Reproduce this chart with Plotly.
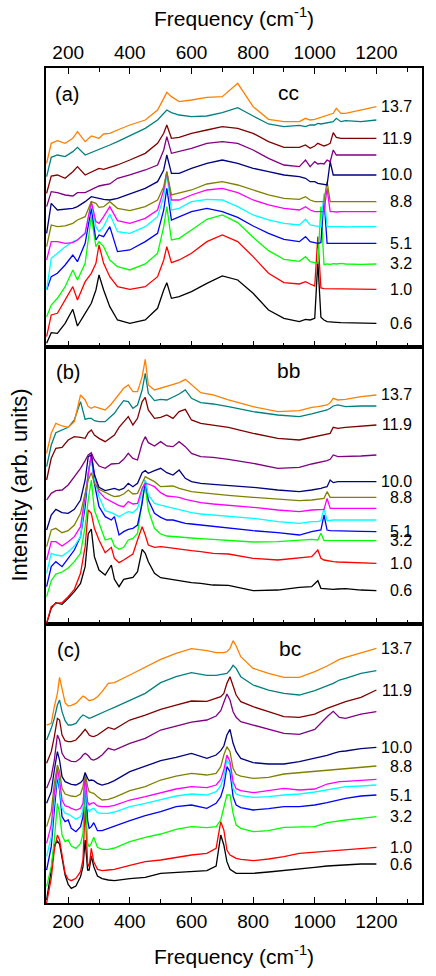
"""Raman spectra under pressure for three polarizations (cc, bb, bc)"""

import plotly.graph_objects as go

FONT = "Liberation Sans, Arial, Helvetica, sans-serif"

# pressure labels (GPa) and line colors, bottom trace first; "" = no label
PRESSURES = ["0.6", "1.0", "3.2", "5.1", "", "", "8.8", "10.0", "", "11.9", "", "13.7"]
COLORS = ["#000000", "#ff0000", "#00ff00", "#0000ff", "#00ffff", "#ff00ff",
          "#808000", "#000080", "#800080", "#800000", "#008080", "#ff8000"]

# ---------------- panel (a): cc ----------------
FREQ_CC = [130, 145, 165, 190, 215, 230, 255, 275, 290, 300, 315, 335, 360, 400, 450, 490,
           510, 520, 535, 560, 600, 650, 700, 750, 800, 850, 900, 950, 970, 985, 1000,
           1010, 1020, 1030, 1040, 1050, 1060, 1070, 1085, 1100, 1150, 1200]
CC_BLACK = [11, 43, 41, 71, 113, 63, 101, 131, 171, 216, 171, 121, 81, 71, 81, 116, 171, 193,
            146, 151, 166, 191, 213, 201, 161, 111, 86, 76, 83, 81, 86, 256, 89, 81, 76, 76,
            76, 74, 73, 73, 71, 71]
CC_RED = [31, 96, 101, 141, 181, 141, 196, 221, 251, 306, 251, 211, 181, 173, 181, 211, 261,
          301, 253, 261, 281, 316, 336, 316, 271, 221, 193, 189, 196, 189, 183, 331, 177, 175,
          175, 174, 174, 174, 173, 173, 173, 173]
CC_GREEN = [91, 126, 146, 181, 231, 201, 251, 391, 301, 316, 301, 261, 241, 231, 249, 281, 361,
            421, 321, 326, 351, 383, 396, 373, 329, 289, 263, 257, 271, 256, 253, 251, 421, 247,
            249, 248, 250, 249, 251, 249, 248, 249]
CC_BLUE = [171, 211, 221, 246, 276, 256, 311, 416, 321, 336, 331, 361, 286, 291, 316, 341, 411,
           476, 381, 391, 406, 416, 406, 389, 363, 341, 323, 316, 331, 316, 313, 311, 313, 446,
           311, 311, 312, 311, 312, 311, 311, 311]
CC_CYAN = [171, 266, 281, 301, 316, 321, 341, 431, 361, 346, 361, 399, 346, 341, 361, 391, 451,
           516, 411, 416, 436, 443, 441, 421, 396, 381, 371, 366, 383, 366, 363, 361, 361, 461,
           361, 361, 360, 361, 361, 360, 361, 361]
CC_MAGENTA = [261, 316, 316, 311, 313, 321, 341, 436, 376, 371, 391, 421, 379, 371, 386, 411,
              471, 526, 441, 441, 456, 471, 476, 463, 441, 426, 416, 411, 421, 411, 406, 406,
              406, 406, 476, 406, 406, 405, 406, 406, 406, 406]
CC_OLIVE = [301, 366, 361, 363, 371, 381, 391, 436, 431, 419, 421, 436, 416, 409, 421, 441, 481,
            526, 456, 461, 471, 489, 496, 486, 471, 456, 446, 443, 451, 441, 436, 436, 436, 436,
            496, 436, 436, 436, 436, 436, 436, 436]
CC_NAVY = [341, 431, 411, 413, 416, 421, 436, 451, 449, 446, 443, 441, 446, 459, 476, 496, 531,
           576, 521, 521, 536, 551, 561, 551, 536, 526, 516, 511, 506, 496, 496, 491, 489, 489,
           486, 556, 516, 516, 516, 516, 516, 516]
CC_PURPLE = [421, 466, 463, 456, 453, 463, 463, 471, 479, 483, 486, 489, 506, 516, 531, 546,
             591, 631, 581, 586, 596, 611, 616, 611, 591, 566, 546, 541, 561, 541, 556, 549,
             551, 549, 561, 556, 591, 576, 576, 576, 576, 576]
CC_MAROON = [461, 513, 516, 506, 526, 541, 516, 526, 533, 536, 533, 539, 546, 561, 581, 611,
             641, 666, 626, 629, 641, 651, 661, 656, 641, 616, 599, 599, 606, 596, 603, 611,
             606, 603, 606, 611, 643, 629, 626, 626, 626, 626]
CC_TEAL = [511, 569, 576, 571, 586, 599, 576, 583, 589, 593, 599, 606, 616, 633, 656, 681, 701,
           711, 703, 696, 691, 693, 703, 718, 693, 669, 661, 665, 661, 666, 666, 671, 669, 671,
           671, 673, 676, 686, 676, 679, 676, 681]
CC_ORANGE = [551, 611, 619, 611, 626, 646, 616, 633, 629, 626, 639, 641, 651, 666, 681, 711,
             746, 764, 751, 736, 741, 749, 751, 791, 721, 683, 676, 676, 686, 681, 683, 686,
             689, 691, 693, 696, 701, 716, 701, 701, 711, 721]

# ---------------- panel (b): bb ----------------
FREQ_BB = [130, 145, 160, 180, 200, 220, 240, 255, 265, 275, 285, 300, 320, 340, 350, 365, 380,
           395, 410, 425, 440, 450, 460, 480, 500, 520, 540, 560, 580, 600, 630, 670, 720, 800,
           880, 950, 990, 1010, 1020, 1030, 1040, 1050, 1060, 1075, 1100, 1150, 1200]
BB_BLACK = [2, 47, 64, 59, 77, 97, 122, 172, 270, 285, 202, 162, 147, 177, 134, 112, 134, 137,
            140, 157, 224, 212, 187, 152, 139, 136, 134, 130, 127, 124, 122, 117, 116, 100, 102,
            110, 112, 130, 107, 106, 104, 104, 104, 105, 106, 102, 100]
BB_RED = [2, 52, 62, 64, 82, 104, 152, 232, 342, 332, 287, 252, 214, 230, 197, 184, 192, 202,
          210, 252, 292, 267, 237, 230, 232, 230, 227, 224, 222, 220, 217, 212, 210, 197, 192,
          197, 202, 222, 197, 192, 190, 188, 187, 186, 185, 184, 182]
BB_GREEN = [82, 130, 150, 156, 168, 187, 212, 292, 372, 432, 342, 302, 252, 257, 234, 224, 230,
            252, 257, 272, 372, 412, 342, 287, 270, 264, 262, 262, 260, 258, 256, 254, 252, 246,
            247, 252, 254, 252, 272, 251, 251, 250, 251, 251, 251, 250, 250]
BB_BLUE = [112, 172, 187, 172, 197, 222, 262, 352, 452, 507, 422, 352, 322, 312, 322, 267, 277,
           284, 287, 297, 362, 432, 372, 332, 320, 312, 312, 307, 302, 300, 297, 292, 287, 280,
           274, 267, 277, 280, 282, 327, 282, 280, 280, 279, 278, 278, 277]
BB_CYAN = [152, 212, 207, 204, 217, 234, 262, 372, 452, 502, 437, 382, 340, 334, 330, 322, 330,
           337, 334, 347, 397, 432, 387, 362, 357, 352, 347, 342, 337, 334, 330, 327, 322, 317,
           307, 302, 307, 307, 310, 347, 310, 312, 312, 312, 312, 311, 312]
BB_MAGENTA = [192, 247, 247, 234, 247, 262, 292, 382, 452, 510, 452, 397, 377, 367, 362, 355,
              352, 367, 360, 362, 407, 422, 420, 412, 394, 384, 382, 380, 374, 370, 364, 360,
              357, 350, 342, 337, 342, 342, 344, 344, 377, 347, 347, 347, 347, 347, 347]
BB_OLIVE = [232, 282, 287, 274, 280, 297, 332, 397, 432, 454, 422, 404, 394, 386, 382, 384, 390,
            402, 390, 392, 422, 442, 437, 427, 412, 412, 414, 407, 402, 397, 394, 390, 386, 380,
            374, 370, 372, 374, 376, 377, 397, 380, 380, 380, 380, 380, 380]
BB_NAVY = [282, 327, 344, 334, 332, 344, 372, 432, 502, 507, 447, 410, 400, 406, 407, 402, 407,
           422, 412, 422, 454, 460, 452, 460, 467, 454, 447, 462, 437, 427, 422, 419, 416, 410,
           402, 397, 402, 404, 407, 410, 412, 432, 424, 427, 427, 427, 427]
BB_PURPLE = [372, 392, 400, 402, 417, 442, 467, 490, 507, 514, 492, 474, 467, 480, 480, 482,
             494, 512, 497, 492, 542, 562, 544, 534, 547, 534, 532, 547, 532, 512, 502, 500,
             494, 482, 467, 470, 480, 484, 486, 487, 490, 494, 507, 502, 502, 504, 507]
BB_MAROON = [432, 497, 527, 530, 552, 562, 560, 557, 574, 582, 567, 557, 547, 562, 567, 590,
             607, 622, 597, 617, 667, 680, 642, 617, 620, 627, 617, 637, 644, 612, 602, 597,
             590, 572, 557, 552, 560, 562, 564, 566, 568, 572, 590, 587, 590, 594, 597]
BB_TEAL = [472, 537, 574, 582, 590, 612, 667, 614, 617, 617, 610, 607, 607, 624, 632, 652, 670,
           667, 647, 657, 702, 752, 692, 670, 674, 672, 680, 690, 702, 677, 664, 660, 652, 637,
           627, 622, 630, 634, 637, 640, 642, 647, 654, 657, 652, 654, 654]
BB_ORANGE = [512, 572, 602, 594, 590, 607, 687, 672, 652, 647, 652, 647, 642, 660, 672, 690,
             707, 717, 697, 697, 742, 794, 717, 702, 707, 714, 717, 724, 734, 717, 694, 687,
             672, 652, 637, 640, 650, 652, 654, 656, 657, 664, 677, 672, 674, 682, 687]

# ---------------- panel (c): bc ----------------
FREQ_BC = [130, 145, 155, 165, 172, 180, 190, 200, 210, 225, 240, 248, 255, 263, 268, 275, 283,
           295, 310, 330, 350, 400, 450, 500, 550, 600, 650, 680, 695, 705, 715, 725, 735, 745,
           760, 800, 850, 900, 950, 1000, 1040, 1060, 1080, 1100, 1150, 1200]
BC_BLACK = [9, 99, 174, 186, 177, 134, 84, 56, 44, 51, 79, 109, 189, 99, 99, 141, 109, 81, 73,
            69, 67, 73, 77, 89, 92, 95, 97, 111, 204, 174, 124, 101, 94, 89, 89, 89, 93, 97,
            101, 107, 111, 112, 114, 115, 117, 117]
BC_RED = [0, 74, 159, 204, 189, 139, 89, 71, 67, 74, 94, 129, 289, 119, 109, 164, 124, 101, 97,
          99, 101, 113, 124, 129, 137, 144, 149, 164, 244, 219, 159, 144, 139, 134, 131, 127,
          132, 139, 149, 153, 156, 157, 159, 161, 164, 167]
BC_GREEN = [49, 109, 189, 299, 269, 204, 184, 189, 171, 164, 179, 209, 349, 179, 169, 179, 197,
            167, 161, 161, 165, 184, 197, 207, 221, 229, 226, 229, 249, 289, 324, 324, 269, 234,
            224, 214, 217, 227, 229, 229, 241, 244, 247, 249, 254, 259]
BC_BLUE = [99, 169, 279, 379, 339, 259, 244, 249, 224, 214, 229, 259, 391, 249, 224, 229, 241,
           217, 217, 224, 229, 247, 262, 274, 289, 294, 284, 299, 319, 349, 409, 394, 319, 294,
           286, 279, 283, 289, 289, 294, 301, 305, 311, 314, 321, 324]
BC_CYAN = [139, 199, 309, 389, 349, 284, 269, 267, 261, 251, 259, 279, 369, 284, 274, 281, 284,
           271, 269, 269, 273, 289, 299, 309, 321, 327, 324, 334, 351, 379, 429, 414, 344, 327,
           322, 317, 319, 324, 327, 333, 339, 343, 347, 349, 351, 354]
BC_MAGENTA = [179, 234, 329, 404, 369, 309, 291, 289, 284, 279, 284, 299, 379, 304, 294, 299,
              301, 291, 289, 289, 293, 309, 319, 331, 342, 349, 346, 354, 371, 399, 444, 424,
              364, 343, 337, 331, 337, 344, 339, 342, 357, 361, 364, 365, 367, 371]
BC_OLIVE = [229, 274, 359, 414, 394, 344, 327, 324, 321, 319, 327, 349, 391, 349, 334, 331, 329,
            319, 309, 311, 317, 337, 349, 369, 381, 389, 384, 389, 409, 444, 469, 454, 404, 386,
            381, 374, 377, 387, 391, 396, 399, 401, 403, 404, 409, 411]
BC_NAVY = [299, 334, 399, 454, 429, 379, 364, 359, 356, 354, 361, 369, 391, 374, 367, 369, 367,
           359, 354, 359, 367, 394, 411, 427, 437, 449, 434, 444, 457, 471, 504, 521, 479, 454,
           434, 421, 417, 417, 424, 434, 443, 449, 454, 456, 463, 467]
BC_PURPLE = [344, 379, 429, 504, 489, 449, 434, 429, 425, 424, 434, 444, 449, 444, 437, 431,
             429, 434, 444, 464, 459, 479, 494, 519, 531, 543, 549, 561, 577, 601, 627, 609,
             574, 557, 544, 534, 521, 509, 506, 521, 559, 575, 557, 554, 567, 574]
BC_MAROON = [419, 454, 499, 554, 549, 504, 487, 484, 484, 489, 504, 514, 521, 511, 504, 501,
             499, 504, 514, 527, 521, 549, 564, 581, 594, 606, 605, 613, 619, 629, 659, 679,
             649, 624, 604, 589, 574, 559, 557, 567, 584, 591, 599, 604, 617, 639]
BC_TEAL = [489, 524, 554, 594, 609, 574, 547, 534, 534, 539, 557, 564, 561, 557, 554, 556, 559,
           564, 571, 579, 587, 609, 629, 661, 679, 691, 683, 683, 685, 687, 689, 699, 713, 704,
           679, 654, 639, 629, 624, 637, 651, 659, 669, 674, 689, 697]
BC_ORANGE = [534, 539, 589, 629, 677, 639, 601, 591, 593, 599, 614, 621, 617, 609, 607, 609,
             611, 619, 634, 659, 661, 684, 707, 731, 749, 763, 757, 751, 751, 751, 754, 764,
             787, 771, 739, 704, 689, 677, 677, 694, 711, 721, 731, 737, 751, 764]


def axis_x(anchor: str, side: str, labels: bool, mirror) -> dict:
    """Shared frequency axis settings for one panel"""

    return dict(
        anchor=anchor, side=side, domain=[0, 1], range=[128, 1348],
        showticklabels=labels, tick0=0, dtick=200,
        ticks="inside", ticklen=6, tickwidth=1.3, tickcolor="black",
        minor=dict(ticks="inside", dtick=100, ticklen=4, tickwidth=1.3, tickcolor="black"),
        showline=True, linecolor="black", linewidth=1.6, mirror=mirror,
        showgrid=False, zeroline=False,
        tickfont=dict(family=FONT, size=19, color="black"),
    )


def axis_y(domain: list, top: float) -> dict:
    """Intensity axis without ticks, just the frame"""

    return dict(
        domain=domain, range=[0, top], showticklabels=False, ticks="",
        showline=True, linecolor="black", linewidth=1.6, mirror=True,
        showgrid=False, zeroline=False,
    )


def main():
    """Build the three stacked panels and write out.html"""

    panels = [
        ("x3", "y3", "(a)", "cc", FREQ_CC,
         [CC_BLACK, CC_RED, CC_GREEN, CC_BLUE, CC_CYAN, CC_MAGENTA,
          CC_OLIVE, CC_NAVY, CC_PURPLE, CC_MAROON, CC_TEAL, CC_ORANGE]),
        ("x2", "y2", "(b)", "bb", FREQ_BB,
         [BB_BLACK, BB_RED, BB_GREEN, BB_BLUE, BB_CYAN, BB_MAGENTA,
          BB_OLIVE, BB_NAVY, BB_PURPLE, BB_MAROON, BB_TEAL, BB_ORANGE]),
        ("x", "y", "(c)", "bc", FREQ_BC,
         [BC_BLACK, BC_RED, BC_GREEN, BC_BLUE, BC_CYAN, BC_MAGENTA,
          BC_OLIVE, BC_NAVY, BC_PURPLE, BC_MAROON, BC_TEAL, BC_ORANGE]),
    ]

    fig = go.Figure()
    annotations = []
    label_font = dict(family=FONT, size=16, color="black")

    # panel tag and polarization positions, in paper units
    tag_pos = {"(a)": (0.056, 0.969, 0.646, 0.971),
               "(b)": (0.058, 0.636, 0.644, 0.638),
               "(c)": (0.061, 0.303, 0.649, 0.305)}

    for xref, yref, tag, pol, freq, series in panels:
        for values, color, pressure in zip(series, COLORS, PRESSURES):
            fig.add_trace(go.Scatter(
                x=freq, y=values, mode="lines", xaxis=xref, yaxis=yref,
                line=dict(color=color, width=1.3), showlegend=False,
                hoverinfo="skip",
            ))
            # pressure label sits next to the end of its own curve
            if pressure:
                annotations.append(dict(
                    xref="paper", yref=yref, x=0.979, y=values[-1],
                    xanchor="right", yanchor="middle", text=pressure,
                    showarrow=False, font=label_font,
                ))

        tx, ty, px_, py_ = tag_pos[tag]
        annotations.append(dict(xref="paper", yref="paper", x=tx, y=ty, text=tag,
                                showarrow=False, xanchor="center", yanchor="middle",
                                font=dict(family=FONT, size=20, color="black")))
        annotations.append(dict(xref="paper", yref="paper", x=px_, y=py_, text=pol,
                                showarrow=False, xanchor="center", yanchor="middle",
                                font=dict(family=FONT, size=21, color="black")))

    # axis titles
    title_font = dict(family=FONT, size=21, color="black")
    annotations.append(dict(xref="paper", yref="paper", x=0.5, y=1.061,
                            text="Frequency (cm<sup>-1</sup>)", showarrow=False,
                            xanchor="center", yanchor="middle", font=title_font))
    annotations.append(dict(xref="paper", yref="paper", x=0.5, y=-0.0623,
                            text="Frequency (cm<sup>-1</sup>)", showarrow=False,
                            xanchor="center", yanchor="middle", font=title_font))
    annotations.append(dict(xref="paper", yref="paper", x=-0.0718, y=0.5,
                            text="Intensity (arb. units)", textangle=-90, showarrow=False,
                            xanchor="center", yanchor="middle",
                            font=dict(family=FONT, size=22, color="black")))

    fig.update_layout(
        width=436, height=976,
        margin=dict(l=46, r=14, t=68, b=73),
        paper_bgcolor="white", plot_bgcolor="white",
        xaxis=axis_x("y", "bottom", True, True),
        xaxis2=axis_x("y2", "bottom", False, True),
        xaxis3=axis_x("y3", "top", True, "ticks"),
        yaxis=axis_y([0, 0.3341], 837),
        yaxis2=axis_y([0.3341, 0.6659], 831),
        yaxis3=axis_y([0.6659, 1], 837),
        annotations=annotations,
    )

    # drop the page's default body margin so the figure starts at the top-left corner
    fig.write_html("out.html", config={"displayModeBar": False},
                   post_script="document.body.style.margin = '0';")


main()
